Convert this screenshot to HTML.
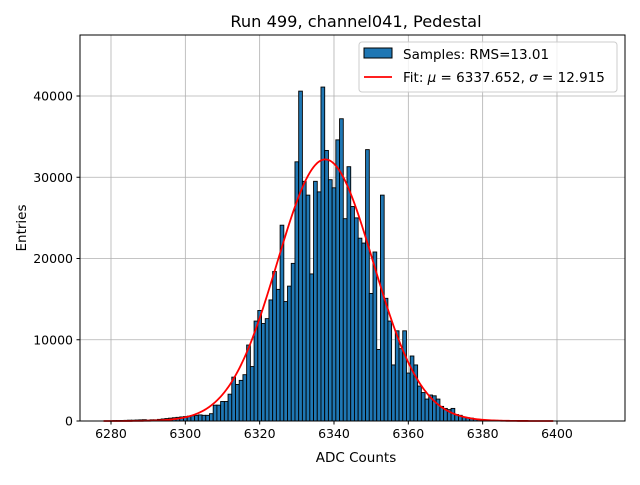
<!DOCTYPE html>
<html><head><meta charset="utf-8"><style>
body{margin:0;background:#fff;}
svg text{font-family:"DejaVu Sans","Liberation Sans",sans-serif;}
</style></head><body>
<svg id="chart" width="640" height="480" xmlns="http://www.w3.org/2000/svg">
<rect width="640" height="480" fill="#fff"/>
<text x="356" y="27" font-size="16.2" text-anchor="middle">Run 499, channel041, Pedestal</text>
<g id="grid"></g>
<g id="bars"></g>
<g id="fit"></g>
<rect x="80" y="35" width="545" height="386" fill="none" stroke="#000" stroke-width="1"/>
<g id="axes"></g>
<text x="356" y="462" font-size="13.5" text-anchor="middle">ADC Counts</text>
<text transform="translate(26,228) rotate(-90)" font-size="13.5" text-anchor="middle">Entries</text>
<g>
<rect x="359" y="42" width="258" height="50" rx="3" fill="#fff" fill-opacity="0.8" stroke="#ccc"/>
<rect x="364" y="48" width="28" height="10" fill="#1f77b4" stroke="#000"/>
<text x="403" y="59" font-size="13.5">Samples: RMS=13.01</text>
<line x1="364" y1="77" x2="392" y2="77" stroke="red" stroke-width="1.8"/>
<text x="403" y="82" font-size="13.5">Fit: <tspan font-style="italic">μ</tspan> = 6337.652, <tspan font-style="italic">σ</tspan> = 12.915</text>
</g>
</svg>
<script>
const binStart = 6278;
const counts = [0,0,0,50,50,60,80,100,100,120,140,160,
 100,150,150,200,250,300,350,400,450,500,550,600,650,700,
 750,700,700,900,1950,1950,2400,2400,3300,5400,4500,5000,5700,9350,6700,12300,13600,12000,12600,14900,18400,16200,
 24100,14700,16600,19400,31900,40600,29500,27800,18100,29500,28200,41100,33300,29700,28700,34600,37200,24900,31300,26400,25000,22500,21900,33400,15700,20800,8800,27800,
 15100,12300,6900,11100,8900,11100,5900,8000,6900,4300,3500,2700,3200,3100,2700,1800,1550,1400,1550,800,700,500,400,350,250,200,150,120,100,80,60,40,30,20,10,10,5,5,0,0,0,0,0,0];
const xTicks = [6280,6300,6320,6340,6360,6380,6400];
const yTicks = [0,10000,20000,30000,40000];
const fitMu = 6337.652, fitSigma = 12.915, fitAmp = 32200;
const fitRange = [6278, 6399];

const L=80,R=625,T=35,B=421;
const xMin=6271.66,xMax=6418.3,yMax=47508;
const sx=v=>L+(v-xMin)/(xMax-xMin)*(R-L);
const sy=v=>B-v/yMax*(B-T);
const NS='http://www.w3.org/2000/svg';
function mk(tag,attrs,parent){const e=document.createElementNS(NS,tag);for(const k in attrs)e.setAttribute(k,attrs[k]);parent.appendChild(e);return e;}
const grid=document.getElementById('grid'),bars=document.getElementById('bars'),axes=document.getElementById('axes'),fit=document.getElementById('fit');
xTicks.forEach(t=>{
 const x=sx(t);
 const g=mk('line',{x1:x,y1:T,x2:x,y2:B,stroke:'#b0b0b0','stroke-width':0.8},grid);
 
 
 mk('line',{x1:x,y1:B,x2:x,y2:B+3.5,stroke:'#000'},axes);
 const tx=mk('text',{x:x,y:B+17,'font-size':12.5,'text-anchor':'middle'},axes);tx.textContent=t;
 
 
});
yTicks.forEach(t=>{
 const y=sy(t);
 const g=mk('line',{x1:L,y1:y,x2:R,y2:y,stroke:'#b0b0b0','stroke-width':0.8},grid);
 
 
 mk('line',{x1:L-3.5,y1:y,x2:L,y2:y,stroke:'#000'},axes);
 const tx=mk('text',{x:L-7,y:y+4.5,'font-size':12.5,'text-anchor':'end'},axes);tx.textContent=t;
 
 
});
counts.forEach((c,i)=>{
 const c0=binStart+i-0.5;
 const x0=sx(c0),x1=sx(c0+1),y=sy(c);
 const r=mk('rect',{x:x0,y:y,width:x1-x0,height:B-y,fill:'#1f77b4',stroke:'#000','stroke-width':0.9},bars);
 
 
});
let d='';
for(let v=fitRange[0];v<=fitRange[1];v+=0.5){
 const f=fitAmp*Math.exp(-0.5*Math.pow((v-fitMu)/fitSigma,2));
 d+=(d?'L':'M')+sx(v).toFixed(2)+','+sy(f).toFixed(2);
}
const p=mk('path',{d:d,fill:'none',stroke:'red','stroke-width':1.8},fit);


</script>
</body></html>
